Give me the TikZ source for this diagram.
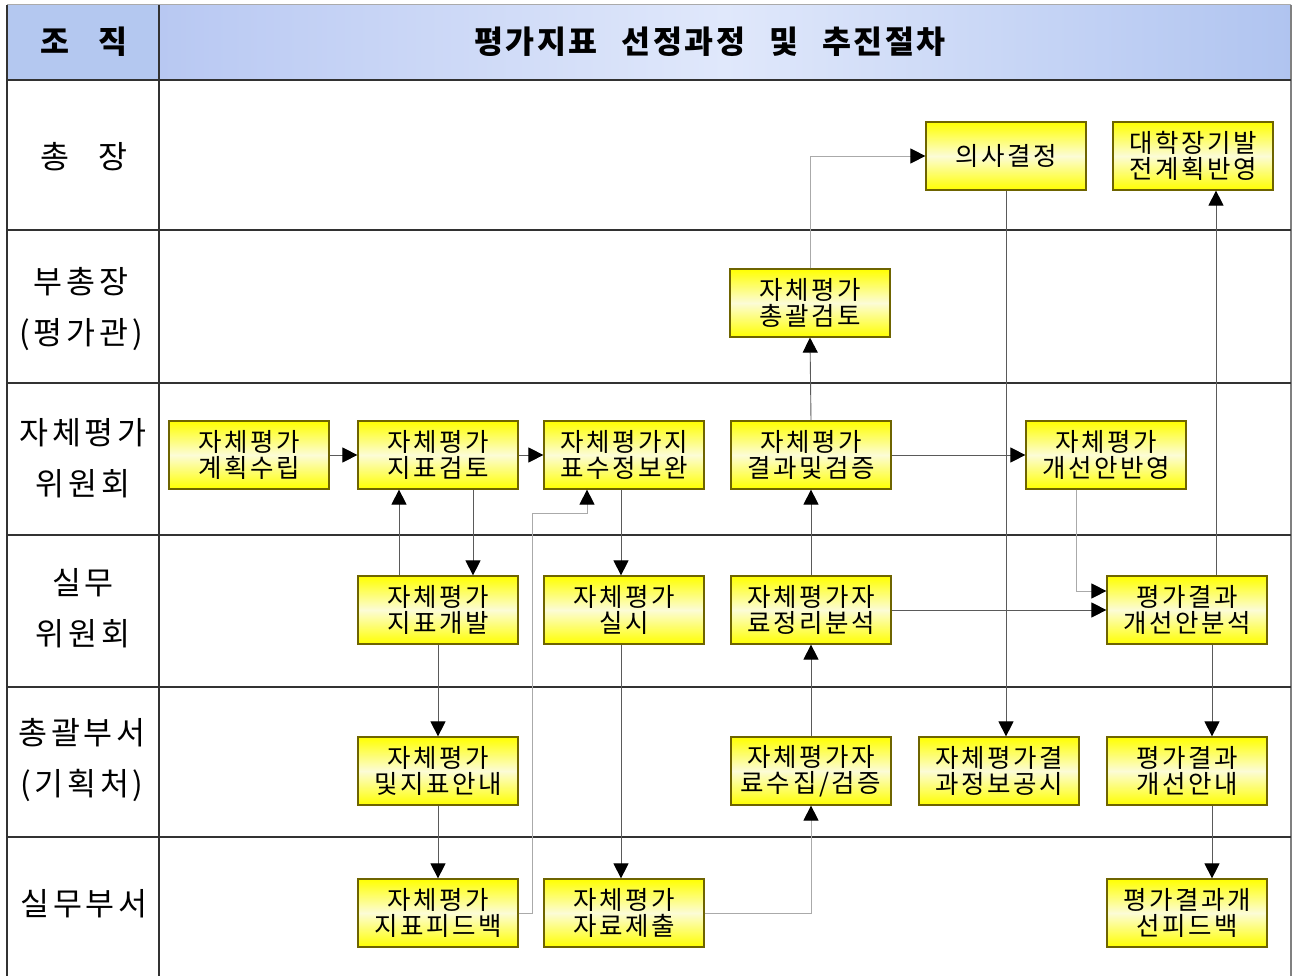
\documentclass[tikz,border=0pt]{standalone}
\usepackage{fontspec}
\setmainfont{Noto Sans CJK KR}
\usetikzlibrary{arrows.meta,calc}
\definecolor{hdrleft}{RGB}{180,200,240}
\definecolor{hdredge}{RGB}{184,200,242}
\definecolor{hdrmid}{RGB}{224,232,251}
\definecolor{hdrright}{RGB}{176,196,240}
\definecolor{boxborder}{RGB}{110,100,0}
\definecolor{paleyel}{RGB}{252,252,214}
\definecolor{gridline}{RGB}{50,50,50}
\definecolor{darkconn}{RGB}{90,90,90}
\definecolor{lightconn}{RGB}{170,170,170}
\tikzset{
  stepbox/.style={rectangle, draw=boxborder, line width=1.2pt,
    top color=yellow, bottom color=yellow, middle color=paleyel,
    minimum width=160pt, minimum height=68pt, inner sep=0pt, align=center,
    font=\fontsize{25.5}{26.5}\selectfont\addfontfeatures{LetterSpace=10}},
  lanelabel/.style={align=center, inner sep=0pt, font=\fontsize{31.5}{51}\selectfont\addfontfeatures{LetterSpace=12}},
  hdrlabel/.style={align=center, inner sep=0pt, font=\bfseries\fontsize{31.5}{36}\selectfont\addfontfeatures{LetterSpace=8}},
  grid/.style={draw=gridline, line width=1.5pt},
  conn/.style={draw=darkconn, line width=0.9pt, -{Triangle[length=15pt,width=15pt,color=black,fill=black]}},
  lconn/.style={draw=lightconn, line width=0.9pt, -{Triangle[length=15pt,width=15pt,color=black,fill=black]}}
}
\begin{document}
\begin{tikzpicture}[x=1pt,y=-1pt]
\useasboundingbox (0,0) rectangle (1294,976);
% header
\fill[hdrleft] (7,5) rectangle (159,80);
\shade[left color=hdredge, right color=hdrright, middle color=hdrmid] (159,5) rectangle (1291,80);
% grid
\draw[draw=lightconn, line width=1pt] (7,5) -- (1291,5);
\draw[grid] (7,5) -- (7,976);
\draw[grid] (159,5) -- (159,976);
\draw[draw=gray, line width=1.2pt] (1291,5) -- (1291,976);
\foreach \yy in {80,230,383,535,687,837} {\draw[grid] (7,\yy) -- (1291,\yy);}
% header labels
\node[hdrlabel] (h1) at (84,42) {조\hspace{30pt}직};
\node[hdrlabel] (h2) at (710,42) {평가지표\hspace{24pt}선정과정\hspace{24pt}및\hspace{24pt}추진절차};
% lane labels
\node[lanelabel] (l1) at (84,157) {총\hspace{30pt}장};
\node[lanelabel] (l2) at (81,309) {부총장\\(평가관)};
\node[lanelabel] (l3) at (83,458) {자체평가\\위원회};
\node[lanelabel] (l4) at (83,608) {실무\\위원회};
\node[lanelabel] (l5) at (82,760) {총괄부서\\(기획처)};
\node[lanelabel] (l6) at (84,904) {실무부서};
% boxes
\node[stepbox] (D1) at (1006,156) {의사결정};
\node[stepbox] (D2) at (1193,156) {대학장기발\\전계획반영};
\node[stepbox] (P1) at (810,303) {자체평가\\총괄검토};
\node[stepbox] (A1) at (249,455) {자체평가\\계획수립};
\node[stepbox] (A2) at (438,455) {자체평가\\지표검토};
\node[stepbox] (A3) at (624,455) {자체평가지\\표수정보완};
\node[stepbox] (A4) at (811,455) {자체평가\\결과및검증};
\node[stepbox] (A5) at (1106,455) {자체평가\\개선안반영};
\node[stepbox] (B1) at (438,610) {자체평가\\지표개발};
\node[stepbox] (B2) at (624,610) {자체평가\\실시};
\node[stepbox] (B3) at (811,610) {자체평가자\\료정리분석};
\node[stepbox] (B4) at (1187,610) {평가결과\\개선안분석};
\node[stepbox] (C1) at (438,771) {자체평가\\및지표안내};
\node[stepbox] (C2) at (811,771) {자체평가자\\료수집/검증};
\node[stepbox] (C3) at (999,771) {자체평가결\\과정보공시};
\node[stepbox] (C4) at (1187,771) {평가결과\\개선안내};
\node[stepbox] (E1) at (438,913) {자체평가\\지표피드백};
\node[stepbox] (E2) at (624,913) {자체평가\\자료제출};
\node[stepbox] (E3) at (1187,913) {평가결과개\\선피드백};
% connectors
\draw[conn] (A1.east) -- (A2.west);
\draw[conn] (A2.east) -- (A3.west);
\draw[conn] ([xshift=35pt]A2.south) -- ([xshift=35pt]A2.south |- B1.north);
\draw[conn] ([xshift=-39pt]B1.north) -- ([xshift=-39pt]B1.north |- A2.south);
\draw[conn] (B1.south) -- (C1.north);
\draw[conn] (C1.south) -- (E1.north);
\draw[lconn] (E1.east) -- ++(14,0) |- ($(A3.south)+(-37,24)$) -- ($(A3.south)+(-37,0)$);
\draw[conn] ([xshift=-3pt]A3.south) -- ([xshift=-3pt]B2.north);
\draw[conn] ([xshift=-3pt]B2.south) -- ([xshift=-3pt]E2.north);
\draw[lconn] (E2.east) -| (C2.south);
\draw[conn] (C2.north) -- (B3.south);
\draw[conn] (B3.north) -- (A4.south);
\draw[conn] (A4.north) -- (P1.south);
\draw[lconn] (P1.north) |- (D1.west);
\draw[conn] (A4.east) -- (A5.west);
\draw[conn] (B3.east) -- (B4.west);
\draw[lconn] ([xshift=-30pt]A5.south) |- ($(B4.west)+(0,-19)$);
\draw[conn] (D1.south) -- (D1.south |- C3.north);
\draw[conn] ([xshift=25pt]B4.south) -- ([xshift=25pt]C4.north);
\draw[conn] ([xshift=25pt]C4.south) -- ([xshift=25pt]E3.north);
\draw[conn] ([xshift=29pt]B4.north) -- ([xshift=29pt]B4.north |- D2.south);
\end{tikzpicture}
\end{document}
